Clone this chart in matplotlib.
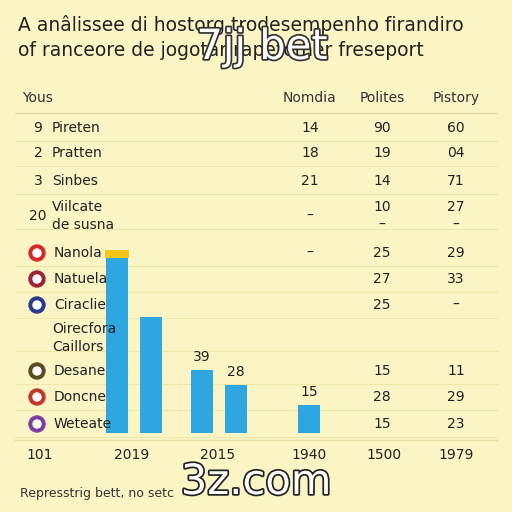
import matplotlib
matplotlib.use("Agg")
import matplotlib.pyplot as plt
import matplotlib.patheffects as pe
from matplotlib.patches import Circle

title1 = "A anâlissee di hostorg trodesempenho firandiro"
title2 = "of ranceore de jogotar rapetomer freseport"
headers = ["Yous", "Nomdia", "Polites", "Pistory"]
row_nums = ["9", "2", "3", "20", "", "", "", "", "", "", ""]
row_labels = ["Pireten", "Pratten", "Sinbes", "Viilcate\nde susna", "Nanola", "Natuela",
              "Ciraclie", "Oirecfora\nCaillors", "Desane", "Doncne", "Weteate"]
col1 = ["14", "18", "21", "–", "–", "", "", "", "", "", ""]
col2 = ["90", "19", "14", "10\n–", "25", "27", "25", "", "15", "28", "15"]
col3 = ["60", "04", "71", "27\n–", "29", "33", "–", "", "11", "29", "23"]
flag_rows = [4, 5, 6, 8, 9, 10]
flag_colors = ["#d62828", "#9b2335", "#2b3a8c", "#5a4a20", "#c0392b", "#7b3fa0"]
row_y = [128, 153, 181, 216, 253, 279, 305, 338, 371, 397, 424]

bar_x = [117, 151, 202, 236, 309]
bar_h = [175, 116, 63, 48, 28]
bar_labels = ["", "", "39", "28", "15"]
axis_labels = ["101", "2019", "2015", "1940", "1500", "1979"]
axis_x = [40, 132, 218, 309, 384, 456]

bg = "#fbf5c6"
fig = plt.figure(figsize=(5.12, 5.12), dpi=100, facecolor=bg)

gax = fig.add_axes([0, 0, 1, 1], zorder=0)
gax.set_xlim(0, 512); gax.set_ylim(512, 0); gax.axis("off")
gax.plot([15, 497], [113, 113], color="#e8dfa0", lw=1)
for y in row_y:
    gax.plot([15, 497], [y + 13, y + 13], color="#efe6a8", lw=0.8)
gax.plot([15, 497], [440, 440], color="#e8dfa0", lw=1)

bax = fig.add_axes([0, (512 - 433) / 512, 1, 200 / 512], zorder=1)
bax.set_xlim(0, 512); bax.set_ylim(0, 200); bax.axis("off")
bax.bar(bar_x, bar_h, width=22, color="#2ea6e0")
bax.bar(bar_x[0], 8, bottom=bar_h[0], width=24, color="#f5c518")
for x, h, l in zip(bar_x, bar_h, bar_labels):
    if l:
        bax.text(x, h + 6, l, ha="center", va="bottom", fontsize=10, color="#222")

ax = fig.add_axes([0, 0, 1, 1], zorder=2)
ax.set_xlim(0, 512); ax.set_ylim(512, 0); ax.axis("off")
ax.patch.set_alpha(0)

ax.text(18, 25, title1, fontsize=13.5, color="#222", va="center")
ax.text(18, 50, title2, fontsize=13.5, color="#222", va="center")
ax.text(262, 47, "7jj bet", fontsize=30, color="white", ha="center", va="center", zorder=5,
        path_effects=[pe.withStroke(linewidth=2.5, foreground="#333")])

hx = [22, 310, 382, 456]
for i, h in enumerate(headers):
    ax.text(hx[i], 98, h, fontsize=10, color="#333", va="center", ha="left" if i == 0 else "center")

for i, y in enumerate(row_y):
    if row_nums[i]:
        ax.text(38, y, row_nums[i], fontsize=10, ha="center", va="center", color="#222")
    lx = 52 if i not in flag_rows else 54
    ax.text(lx, y, row_labels[i], fontsize=10, ha="left", va="center", color="#222",
            linespacing=1.4, zorder=3)
    ax.text(310, y, col1[i], fontsize=10, ha="center", va="center", color="#222")
    ax.text(382, y, col2[i], fontsize=10, ha="center", va="center", color="#222", linespacing=1.4)
    ax.text(456, y, col3[i], fontsize=10, ha="center", va="center", color="#222", linespacing=1.4)
for r, c in zip(flag_rows, flag_colors):
    ax.add_patch(Circle((37, row_y[r]), 8, color=c, zorder=3))
    ax.add_patch(Circle((37, row_y[r]), 4, color="white", zorder=4))

for x, l in zip(axis_x, axis_labels):
    ax.text(x, 455, l, fontsize=10, ha="center", va="center", color="#222")

ax.text(256, 482, "3z.com", fontsize=30, color="white", ha="center", va="center", zorder=5,
        path_effects=[pe.withStroke(linewidth=2.5, foreground="#222")])
ax.text(20, 494, "Represstrig bett, no setc", fontsize=9, color="#333", va="center")

fig.savefig("out.png", dpi=100, facecolor=bg)
